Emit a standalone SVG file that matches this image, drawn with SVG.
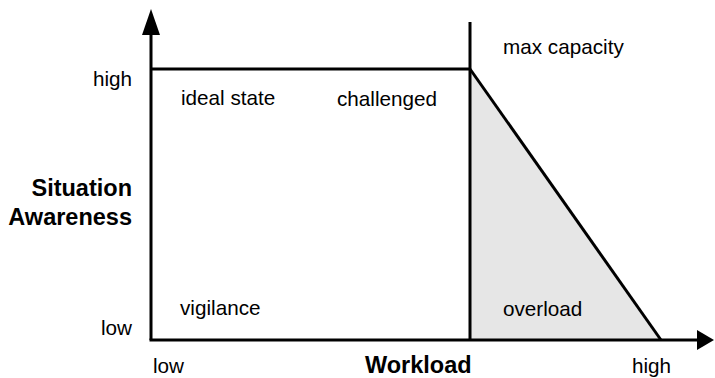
<svg xmlns="http://www.w3.org/2000/svg" width="715" height="378" viewBox="0 0 715 378">
<style>
.t{font-family:"Liberation Sans",Arial,sans-serif;font-size:20.7px;fill:#000}
.b{font-family:"Liberation Sans",Arial,sans-serif;font-size:23.5px;font-weight:bold;fill:#000}
.ln{stroke:#000;stroke-width:3;fill:none}
</style>
<rect width="715" height="378" fill="#fff"/>
<g id="overload-region">
<polygon points="470,69 661,340 470,340" fill="#e6e6e6" stroke="none"/>
</g>
<g id="connectors">
<line class="ln" x1="151" y1="340" x2="151" y2="33"/>
<polygon points="151,9 142,35 160,35" fill="#000"/>
<line class="ln" x1="149.5" y1="340" x2="699" y2="340"/>
<polygon points="714,340 697,330 697,350" fill="#000"/>
<line class="ln" x1="151" y1="69" x2="470" y2="69"/>
<line class="ln" x1="470" y1="22" x2="470" y2="340"/>
<line class="ln" x1="470" y1="69" x2="661" y2="340"/>
</g>
<g id="y-labels">
<text class="t" x="132" y="86" text-anchor="end">high</text>
<text class="t" x="132" y="335" text-anchor="end">low</text>
<text class="b" x="132" y="196" text-anchor="end">Situation</text>
<text class="b" x="132" y="225" text-anchor="end">Awareness</text>
</g>
<g id="x-labels">
<text class="t" x="153" y="373">low</text>
<text class="b" x="365" y="373">Workload</text>
<text class="t" x="632" y="373">high</text>
</g>
<g id="ideal-state"><text class="t" x="181" y="105">ideal state</text></g>
<g id="challenged"><text class="t" x="337" y="106">challenged</text></g>
<g id="max-capacity"><text class="t" x="503" y="54">max capacity</text></g>
<g id="vigilance"><text class="t" x="180" y="315">vigilance</text></g>
<g id="overload"><text class="t" x="503" y="316">overload</text></g>
</svg>
